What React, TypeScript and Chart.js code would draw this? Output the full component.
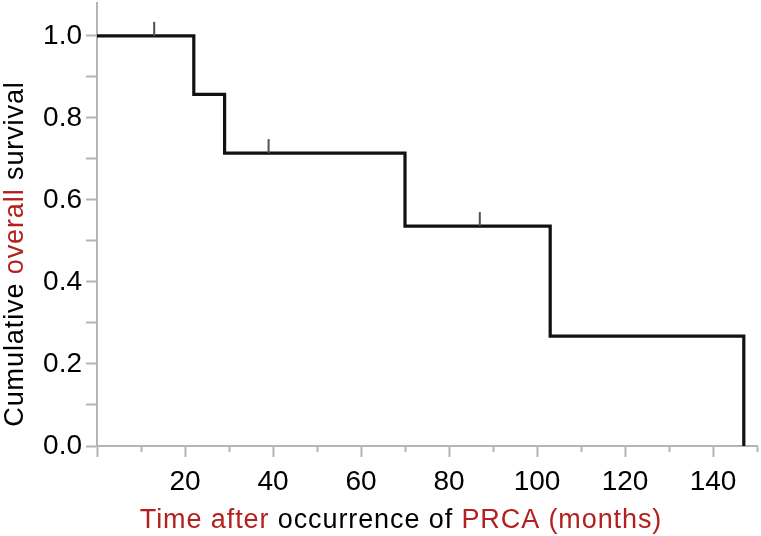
import React, { useEffect, useRef } from "react";
import { Chart, registerables } from "chart.js";

Chart.register(...registerables);

// Kaplan-Meier step points (time in months, cumulative survival)
const stepTimes = [0, 22, 29, 70, 103, 147];
const stepSurvival = [1.0, 0.857, 0.714, 0.536, 0.268, 0.0];

// Censored observations
const censorTimes = [13, 39, 87];
const censorSurvival = [1.0, 0.714, 0.536];

const xTickValues = [20, 40, 60, 80, 100, 120, 140];
const yTickLabels = ["0.0", "0.2", "0.4", "0.6", "0.8", "1.0"];

const RED = "#b3201e";
const FONT_FAMILY = '"Liberation Sans", Arial, Helvetica, sans-serif';
const AXIS_GRAY = "#b4b4b4";

const xTitleParts = [
  { text: "Time after ", color: RED },
  { text: "occurrence of ", color: "#000" },
  { text: "PRCA (months)", color: RED },
];
const yTitleParts = [
  { text: "Cumulative ", color: "#000" },
  { text: "overall", color: RED },
  { text: " survival", color: "#000" },
];

function drawParts(ctx: CanvasRenderingContext2D, parts: { text: string; color: string }[], cx: number, baseline: number) {
  const total = parts.reduce((s, p) => s + ctx.measureText(p.text).width, 0);
  let x = cx - total / 2;
  for (const p of parts) {
    ctx.fillStyle = p.color;
    ctx.fillText(p.text, x, baseline);
    x += ctx.measureText(p.text).width;
  }
}

const titlesPlugin = {
  id: "colouredTitles",
  afterDraw(chart: any) {
    const ctx = chart.ctx as any;
    ctx.save();
    ctx.font = `27px ${FONT_FAMILY}`;
    ctx.letterSpacing = "0.9px";
    ctx.textAlign = "left";
    ctx.textBaseline = "alphabetic";
    drawParts(ctx, xTitleParts, 401, 528);
    ctx.translate(23, 254);
    ctx.rotate(-Math.PI / 2);
    drawParts(ctx, yTitleParts, 0, 0);
    ctx.restore();
  },
};

export default function App() {
  const canvasRef = useRef<HTMLCanvasElement | null>(null);

  useEffect(() => {
    document.body.style.margin = "0";
    const canvas = canvasRef.current;
    if (!canvas) return;
    const chart = new Chart(canvas, {
      type: "line",
      data: {
        datasets: [
          {
            label: "Censored",
            type: "scatter",
            data: censorTimes.map((t, i) => ({ x: t, y: censorSurvival[i] })),
            pointStyle: "dash",
            rotation: -90,
            pointRadius: 14,
            borderColor: "#505050",
            borderWidth: 2,
            showLine: false,
          } as any,
          {
            label: "Survival",
            data: stepTimes.map((t, i) => ({ x: t, y: stepSurvival[i] })),
            stepped: "before",
            borderColor: "#111111",
            borderWidth: 3.2,
            borderJoinStyle: "miter",
            pointRadius: 0,
            fill: false,
          } as any,
        ],
      },
      options: {
        animation: false,
        responsive: false,
        layout: { autoPadding: false, padding: { top: 3, right: 4, left: 0, bottom: 0 } },
        plugins: {
          legend: { display: false },
          tooltip: { enabled: false },
        },
        scales: {
          x: {
            type: "linear",
            min: 0,
            max: 150,
            afterFit: (s: any) => {
              s.height = 90;
              s.paddingLeft = 0;
              s.paddingRight = 0;
            },
            border: { display: true, color: AXIS_GRAY, width: 2 },
            grid: {
              drawOnChartArea: false,
              drawTicks: true,
              tickLength: 11,
              tickColor: AXIS_GRAY,
              tickWidth: 2,
              tickBorderDash: (ctx: any) => (ctx.tick && ctx.tick.value % 20 !== 0 ? [5, 40] : []),
            } as any,
            ticks: {
              stepSize: 10,
              autoSkip: false,
              maxRotation: 0,
              includeBounds: false,
              padding: 8,
              color: "#000",
              font: { family: FONT_FAMILY, size: 28 },
              callback: (v: any) => (xTickValues.includes(Number(v)) ? String(v) : ""),
            },
          },
          y: {
            type: "linear",
            min: 0,
            max: 1.08,
            afterFit: (s: any) => {
              s.width = 97;
              s.paddingTop = 0;
              s.paddingBottom = 0;
            },
            border: { display: true, color: AXIS_GRAY, width: 2 },
            grid: {
              drawOnChartArea: false,
              drawTicks: true,
              tickLength: 11,
              tickColor: AXIS_GRAY,
              tickWidth: 2,
            },
            ticks: {
              stepSize: 0.1,
              autoSkip: false,
              includeBounds: false,
              padding: 4,
              color: "#000",
              font: { family: FONT_FAMILY, size: 28 },
              callback: (v: any) => {
                const n = Math.round(Number(v) * 10);
                return n % 2 === 0 ? yTickLabels[n / 2] ?? "" : "";
              },
            },
          },
        },
      },
      plugins: [titlesPlugin],
    });
    return () => chart.destroy();
  }, []);

  return (
    <div style={{ width: 761, height: 536, position: "relative" }}>
      <canvas ref={canvasRef} width={761} height={536} style={{ display: "block" }} />
    </div>
  );
}
